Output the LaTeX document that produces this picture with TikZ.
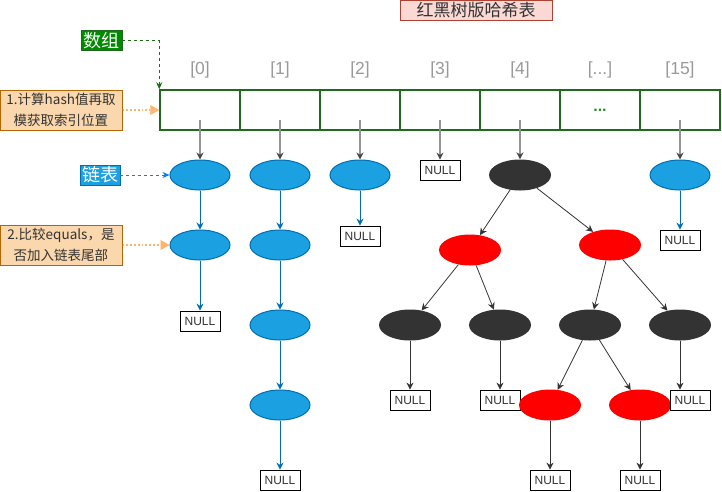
\documentclass[tikz,border=0pt]{standalone}
\usepackage{fontspec}
\setmainfont{Liberation Sans}
\newfontfamily\cjk{Noto Sans CJK SC}
\usetikzlibrary{shapes.geometric,arrows.meta}
\definecolor{cellgreen}{HTML}{1E6B1E}
\definecolor{tagreen}{HTML}{008A00}
\definecolor{dotgreen}{HTML}{2E8B2E}
\definecolor{bluefill}{HTML}{1BA1E2}
\definecolor{blueline}{HTML}{006EAF}
\definecolor{dark}{HTML}{333333}
\definecolor{redfill}{HTML}{FF0000}
\definecolor{orfill}{HTML}{FAD7AC}
\definecolor{orline}{HTML}{B46504}
\definecolor{orarrow}{HTML}{FFB570}
\definecolor{pinkfill}{HTML}{FAD9D5}
\definecolor{pinkline}{HTML}{AE4132}
\definecolor{idxgray}{HTML}{999999}
\definecolor{linkblue}{HTML}{007FFF}
\begin{document}
\begin{tikzpicture}[x=1pt,y=-1pt,
  cell/.style={draw=cellgreen,line width=1.5pt,minimum width=80pt,minimum height=40pt,inner sep=0pt},
  idx/.style={text=idxgray,font=\fontsize{17.5}{19}\selectfont},
  bnode/.style={ellipse,fill=bluefill,draw=blueline,line width=1pt,minimum width=60pt,minimum height=30pt,inner sep=0pt},
  knode/.style={ellipse,fill=dark,minimum width=62pt,minimum height=31pt,inner sep=0pt},
  rnode/.style={ellipse,fill=redfill,minimum width=62pt,minimum height=31pt,inner sep=0pt},
  nullbox/.style={draw=black,line width=0.8pt,minimum width=40pt,minimum height=20pt,inner sep=0pt,text=dark,font=\fontsize{12}{12}\selectfont,fill=white},
  grayarr/.style={draw=gray!85,line width=1.2pt,-{Stealth[length=7pt,width=7pt,color=dark!90]}},
  bluearr/.style={draw=blueline,line width=1pt,-{Stealth[length=7pt,width=7pt]}},
  treearr/.style={draw=dark,line width=0.8pt,-{Stealth[length=7pt,width=7pt]}},
  notebox/.style={fill=orfill,draw=orline,line width=1pt,minimum width=122pt,minimum height=40pt,inner sep=0pt,align=center,font=\cjk\fontsize{13.5}{20.5}\selectfont,text=dark},
  orarr/.style={draw=orarrow,line width=1.8pt,dotted,-{Triangle[length=9pt,width=10pt,fill=orarrow,line width=0.5pt]}},
]
\useasboundingbox (0,0) rectangle (722,491);
% title
\node[fill=pinkfill,draw=pinkline,line width=1pt,minimum width=152pt,minimum height=20pt,inner sep=0pt,font=\cjk\fontsize{17}{18}\selectfont,text=dark] (title) at (476,10) {红黑树版哈希表};
% array cells
\foreach \i/\x/\l in {0/200/{[0]},1/280/{[1]},2/360/{[2]},3/440/{[3]},4/520/{[4]},5/600/{[...]},6/680/{[15]}}{
  \node[cell] (c\i) at (\x,110) {};
  \node[idx] (l\i) at (\x,70) {\l};
}
\node[text=dotgreen,font=\bfseries\fontsize{16}{16}\selectfont] (dots) at (600,110) {...};
% side labels
\node[fill=tagreen,draw=cellgreen,line width=0.8pt,minimum width=41pt,minimum height=20pt,inner sep=0pt,text=white,font=\cjk\fontsize{18}{19}\selectfont] (shuzu) at (101.5,40.5) {数组};
\node[notebox] (n1) at (61,110) {1.计算hash值再取\\模获取索引位置};
\node[fill=bluefill,draw=blueline,line width=0.8pt,minimum width=40pt,minimum height=20pt,inner sep=0pt,text=white,font=\cjk\fontsize{18}{19}\selectfont] (lianbiao) at (100,175) {链表};
\node[notebox] (n2) at (61,245) {2.比较equals，是\\否加入链表尾部};
% column 0
\node[bnode] (a0) at (200,175) {};
\node[bnode] (a1) at (200,245) {};
\node[nullbox] (an) at (200,321) {NULL};
% column 1
\node[bnode] (b0) at (280,175) {};
\node[bnode] (b1) at (280,245) {};
\node[bnode] (b2) at (280,325) {};
\node[bnode] (b3) at (280,405) {};
\node[nullbox] (bn) at (280,480) {NULL};
% column 2
\node[bnode] (d0) at (360,175) {};
\node[nullbox] (dn) at (360,236) {NULL};
% column 3
\node[nullbox] (en) at (440,170) {NULL};
% column 15
\node[bnode] (f0) at (680,175) {};
\node[nullbox] (fn) at (680,240) {NULL};
% tree
\node[knode] (root) at (520,175) {};
\node[rnode] (rl) at (470,250) {};
\node[rnode] (rr) at (610,245) {};
\node[knode] (k1) at (410,325) {};
\node[knode] (k2) at (500,325) {};
\node[knode] (k3) at (590,325) {};
\node[knode] (k4) at (680,325) {};
\node[nullbox] (k1n) at (410,400) {NULL};
\node[nullbox] (k2n) at (500,400) {NULL};
\node[rnode] (r3) at (550,405) {};
\node[rnode] (r4) at (640,405) {};
\node[nullbox] (k4n) at (690,400) {NULL};
\node[nullbox] (r3n) at (550,480) {NULL};
\node[nullbox] (r4n) at (640,480) {NULL};
% gray connectors from array
\draw[grayarr] ([yshift=-10pt]c0.center) -- (a0.north);
\draw[grayarr] ([yshift=-10pt]c1.center) -- (b0.north);
\draw[grayarr] ([yshift=-10pt]c2.center) -- (d0.north);
\draw[grayarr] ([yshift=-10pt]c3.center) -- (en.north);
\draw[grayarr] ([yshift=-10pt]c4.center) -- (root.north);
\draw[grayarr] ([yshift=-10pt]c6.center) -- (f0.north);
% blue links
\draw[bluearr] (a0) -- (a1);
\draw[bluearr] (a1) -- (an);
\draw[bluearr] (b0) -- (b1);
\draw[bluearr] (b1) -- (b2);
\draw[bluearr] (b2) -- (b3);
\draw[bluearr] (b3) -- (bn);
\draw[bluearr] (d0) -- (dn);
\draw[bluearr] (f0) -- (fn);
% tree edges
\draw[treearr] (root) -- (rl);
\draw[treearr] (root) -- (rr);
\draw[treearr] (rl) -- (k1);
\draw[treearr] (rl) -- (k2);
\draw[treearr] (rr) -- (k3);
\draw[treearr] (rr) -- (k4);
\draw[treearr] (k3) -- (r3);
\draw[treearr] (k3) -- (r4);
\draw[treearr] (k1) -- (k1n);
\draw[treearr] (k2) -- (k2n);
\draw[treearr] (k4.south) -- (k4.south |- k4n.north);
\draw[treearr] (r3) -- (r3n);
\draw[treearr] (r4) -- (r4n);
% annotation arrows
\draw[draw=cellgreen,line width=0.8pt,dashed,-{Stealth[length=7pt,width=6pt]}] (shuzu.east) -| (c0.north west);
\draw[orarr] (n1.east) -- (c0.west);
\draw[draw=linkblue,line width=0.8pt,dashed,-{Stealth[length=7pt,width=6pt]}] (lianbiao.east) -- (a0.west);
\draw[orarr] (n2.east) -- (a1.west);
\end{tikzpicture}
\end{document}
